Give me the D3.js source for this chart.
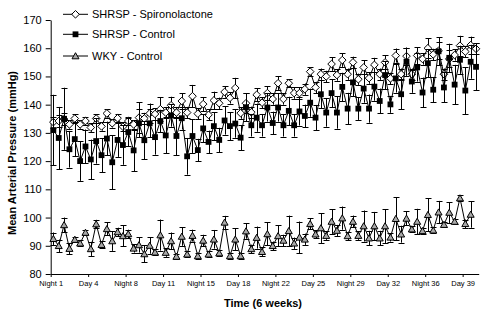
<!DOCTYPE html>
<html>
<head>
<meta charset="utf-8">
<script src="https://cdn.jsdelivr.net/npm/d3@7"></script>
<style>
  body { margin: 0; background: #fff; }
  svg { display: block; font-family: Arial, "Liberation Sans", sans-serif; }
</style>
</head>
<body>
<svg id="chart" width="488" height="316"></svg>
<script>
// x categories: Night 1, Day 1, Night 2, ... (80 half-days)
var tickIndex = [0, 7, 14, 21, 28, 35, 42, 49, 56, 63, 70, 77];
var tickLabels = ['Night 1', 'Day 4', 'Night 8', 'Day 11', 'Night 15', 'Day 18',
    'Night 22', 'Day 25', 'Night 29', 'Day 32', 'Night 36', 'Day 39'];
var yTicks = [80, 90, 100, 110, 120, 130, 140, 150, 160, 170];

var seriesNames = ['SHRSP - Spironolactone', 'SHRSP - Control', 'WKY - Control'];

var spiro = [133.8, 134.2, 134.9, 133, 135.1, 133, 134.2, 131.9, 135.1, 132.3,
    136.9, 133.4, 135.2, 132.2, 134.2, 133, 135.4, 135.1, 136.9, 136.7,
    138.4, 137.2, 139.8, 137.2, 141.3, 137.2, 143, 136.8, 140.2, 136.4,
    141.5, 140.5, 144.5, 142.4, 145.9, 137, 140.5, 137.3, 143.5, 140.7,
    144.1, 142, 147.6, 142, 147.6, 144.1, 144.1, 145.5, 151.7, 146.1,
    150.8, 150, 154.4, 150.5, 155.8, 150.8, 155, 149, 153.2, 149.4,
    154.1, 150.8, 155, 149.3, 157.4, 150.8, 157.2, 150.8, 157.4, 156.2,
    160, 157.8, 159.1, 150.8, 156.2, 157.6, 160.9, 158.8, 161.1, 159.8];
var spiroErr = [2, 2, 2, 1.5, 1.5, 1.5, 1.5, 1.5, 1.5, 1.5,
    1.5, 1.5, 1.5, 1.5, 1.5, 1.5, 5.5, 2, 3.5, 2,
    4.2, 2, 3, 2, 2.8, 2, 4, 2, 2.5, 2,
    3.1, 2, 2, 2, 3.6, 2, 3.5, 2, 2.3, 2,
    2.4, 2, 2.4, 2, 1.5, 2, 2, 2, 1.5, 2,
    2, 2, 2.4, 2, 2.4, 2, 2, 2, 2.5, 2,
    2.5, 2, 2.5, 2, 2.5, 2, 3, 2, 3, 2,
    3.5, 2, 3, 2, 3, 2, 3.5, 2, 3, 2];

var control = [131, 128.2, 135, 124.2, 127.8, 120, 125.2, 120.6, 127.1, 122.1,
    128, 119.6, 127.5, 125.7, 130.3, 123.8, 133.4, 127.4, 133.4, 128.5,
    134.2, 129.1, 136.2, 128.9, 135.2, 121.7, 128.9, 123.9, 131.6, 126.8,
    132.4, 127.5, 134.4, 132.4, 133.3, 128.3, 139.1, 132.7, 135.4, 132.7,
    139, 133.5, 139, 132.7, 137.8, 132.7, 137.6, 136, 140.7, 135.4,
    143.7, 137.2, 144.1, 137.2, 146.3, 138.6, 147.9, 138.6, 145.7, 138.6,
    146.4, 141.3, 150.5, 140.1, 149.3, 143.7, 155.2, 148.2, 153.2, 144.3,
    154.7, 145.3, 158.9, 146.1, 156.6, 147.1, 155.9, 145, 155.2, 153.4];
var controlErr = [12.5, 11, 11, 6.5, 6, 7, 6, 7, 8, 6,
    6, 9.6, 6, 7, 5, 7.4, 5, 6.7, 5, 6.2,
    4, 6.4, 4, 6.9, 4, 6.5, 6, 4, 5, 4,
    5, 4.3, 5, 5, 5, 4.5, 5, 4, 5, 4,
    5, 4, 5, 4, 5, 4, 5, 4, 5, 4.5,
    5, 5, 5, 5.7, 5, 5.6, 5, 4, 5, 5,
    5, 4.4, 5, 3, 5, 5.3, 5, 4, 5, 5.3,
    5, 4.4, 5, 5.3, 5, 7, 5, 8.3, 6, 8.3];

var wky = [92.5, 90, 97.4, 89, 92.2, 90.9, 94.7, 88.9, 97.7, 90.4,
    96, 91.7, 94.9, 93.5, 94.2, 89.1, 90.3, 87.1, 90.1, 87.7,
    93.8, 87.6, 91.7, 86.2, 93.3, 87, 93.6, 86.4, 91.9, 87,
    92.3, 87.4, 98.3, 86.4, 92.3, 86.4, 95.2, 88.9, 92.9, 87.9,
    94.2, 90, 93.5, 91.9, 95.3, 90.9, 93, 92.3, 97.8, 94.1,
    96.3, 93.6, 98.6, 95.4, 99.8, 93.5, 98.6, 93.6, 97, 92.7,
    97, 92.7, 97, 93, 99.6, 94.1, 99.7, 95.9, 98.6, 95.3,
    101, 95.5, 101.9, 97.5, 101.8, 98.6, 106.9, 97.8, 101.1];
var wkyErr = [2.2, 2.2, 2.6, 2, 1, 1, 1, 2.5, 1.5, 1.3,
    2.3, 3.5, 1.5, 3.7, 1.5, 1.5, 2.7, 3, 2.9, 1,
    5.5, 1.5, 3, 1, 3.3, 1, 2.1, 1, 2, 1,
    3.3, 1, 2.3, 1, 3.9, 1, 2.7, 1.5, 3.9, 1.5,
    4.1, 1.5, 3.7, 2, 5.4, 2, 5.6, 2, 2, 1.5,
    5.3, 1.5, 4.4, 2, 4.1, 1.5, 2.1, 1.5, 5.5, 2.6,
    5, 2.6, 6, 1.5, 7.6, 3, 2.5, 1, 4.5, 1,
    5.9, 1, 4, 1, 3.7, 1, 1, 1.5, 4.7];

var margin = {left: 50.7, right: 9.3, top: 20, bottom: 42};
var width = 488, height = 316;

var svg = d3.select('#chart');

var x = d3.scaleLinear().domain([0, 80]).range([margin.left, width - margin.right]);
var y = d3.scaleLinear().domain([80, 170]).range([height - margin.bottom, margin.top]);
var cx = i => x(i + 0.5);

// Axes
var yAxis = svg.append('g')
    .attr('transform', 'translate(' + margin.left + ',0)')
    .call(d3.axisLeft(y).tickValues(yTicks).tickSize(5).tickSizeOuter(0).tickPadding(4));
yAxis.selectAll('text').attr('font-size', '11px').attr('font-family', 'Arial, "Liberation Sans", sans-serif').attr('fill', '#000');
yAxis.selectAll('line, path').attr('stroke', '#000');

var xAxis = svg.append('g')
    .attr('transform', 'translate(0,' + y(80) + ')')
    .call(d3.axisBottom(x).tickValues(tickIndex).tickFormat((d, i) => tickLabels[i])
        .tickSize(3).tickSizeOuter(0).tickPadding(4));
xAxis.selectAll('text').attr('font-size', '7.5px').attr('font-family', 'Arial, "Liberation Sans", sans-serif').attr('fill', '#000');
xAxis.selectAll('line, path').attr('stroke', '#000');

// Axis titles
svg.append('text')
    .attr('x', 263)
    .attr('y', 307)
    .attr('text-anchor', 'middle')
    .attr('font-size', '11px')
    .attr('font-weight', 'bold')
    .text('Time (6 weeks)');

svg.append('text')
    .attr('transform', 'translate(16,153) rotate(-90)')
    .attr('text-anchor', 'middle')
    .attr('font-size', '11px')
    .attr('font-weight', 'bold')
    .text('Mean Arterial Pressure (mmHg)');

// marker shapes
function drawMarker(sel, type) {
    if (type === 'diamond') {
        sel.append('path').attr('d', 'M0,-3.8L3.8,0L0,3.8L-3.8,0Z')
            .attr('fill', '#fff').attr('stroke', '#000').attr('stroke-width', 1);
    } else if (type === 'square') {
        sel.append('rect').attr('x', -2.9).attr('y', -2.9).attr('width', 5.8).attr('height', 5.8)
            .attr('fill', '#000');
    } else {
        sel.append('path').attr('d', 'M0,-3.3L3.5,2.8L-3.5,2.8Z')
            .attr('fill', '#a8a8a8').attr('stroke', '#000').attr('stroke-width', 1);
    }
}

var series = [
    {name: seriesNames[0], values: spiro, err: spiroErr, marker: 'diamond'},
    {name: seriesNames[1], values: control, err: controlErr, marker: 'square'},
    {name: seriesNames[2], values: wky, err: wkyErr, marker: 'triangle'}
];

var line = d3.line().x((d, i) => cx(i)).y(d => y(d));
var cap = 3;

series.forEach(function (s) {
    var g = svg.append('g');
    var data = s.values.map((v, i) => ({i: i, v: v, e: s.err[i]}));

    // error bars
    var eb = g.append('g').attr('stroke', '#000').attr('stroke-width', 1);
    data.forEach(function (d) {
        var px = Math.round(cx(d.i)) + 0.5;
        var top = y(d.v + d.e), bot = y(d.v - d.e);
        eb.append('line').attr('x1', px).attr('x2', px).attr('y1', top).attr('y2', bot);
        eb.append('line').attr('x1', px - cap).attr('x2', px + cap).attr('y1', Math.round(top) + 0.5).attr('y2', Math.round(top) + 0.5);
        eb.append('line').attr('x1', px - cap).attr('x2', px + cap).attr('y1', Math.round(bot) + 0.5).attr('y2', Math.round(bot) + 0.5);
    });

    g.append('path')
        .attr('d', line(s.values))
        .attr('fill', 'none')
        .attr('stroke', '#000')
        .attr('stroke-width', 1);

    g.selectAll('g.mk')
        .data(data)
        .enter()
        .append('g')
        .attr('class', 'mk')
        .attr('transform', d => 'translate(' + cx(d.i) + ',' + y(d.v) + ')')
        .each(function () { drawMarker(d3.select(this), s.marker); });
});

// Legend
var legendY = [14.3, 34.3, 56];
series.forEach(function (s, k) {
    var lg = svg.append('g').attr('transform', 'translate(63,' + legendY[k] + ')');
    lg.append('line').attr('x1', 0).attr('x2', 25).attr('y1', 0).attr('y2', 0)
        .attr('stroke', '#000').attr('stroke-width', 1);
    var m = lg.append('g').attr('transform', 'translate(12.5,0)');
    drawMarker(m, s.marker);
    lg.append('text')
        .attr('x', 29)
        .attr('y', 0)
        .attr('dy', '0.35em')
        .attr('font-size', '11px')
        .text(s.name);
});
</script>
</body>
</html>
